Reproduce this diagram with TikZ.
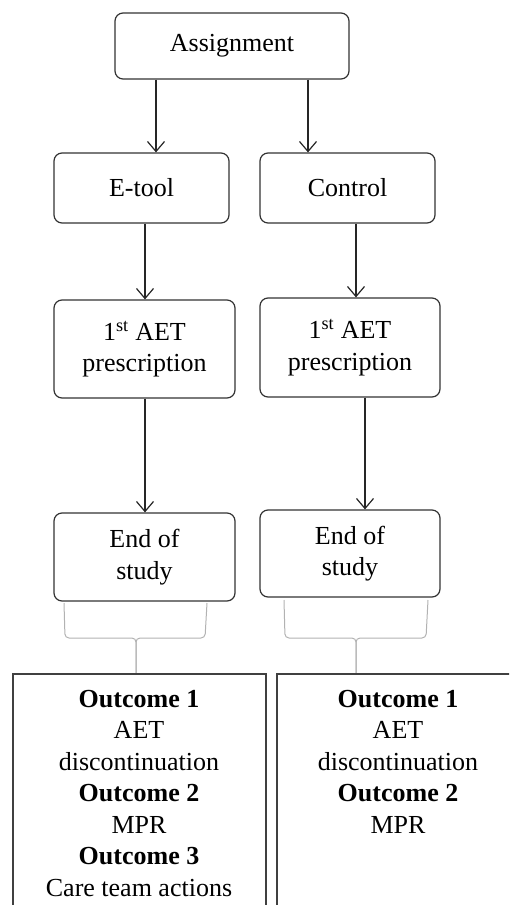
\documentclass[tikz,border=0pt]{standalone}
\usepackage{fontspec}
\setmainfont{Liberation Serif}
\usetikzlibrary{arrows.meta,calc}
\begin{document}
\begin{tikzpicture}[x=1pt,y=-1pt,
  box/.style={draw=black!80,line width=1.2pt,rounded corners=8pt,align=center,inner sep=0pt,
    font=\fontsize{26}{31.5}\selectfont},
  arr/.style={draw=black!85,line width=1.2pt,-{Straight Barb[length=10pt,width=17pt,line width=1.2pt]}},
  brace/.style={draw=black!30,line width=1pt,rounded corners=4pt},
  outline/.style={draw=black!75,line width=1.4pt},
  outtext/.style={align=center,inner sep=0pt,anchor=north,font=\fontsize{26}{31.5}\selectfont}]
\useasboundingbox (0,0) rectangle (509,905);
\clip (0,0) rectangle (509,905);
% boxes
\node[box,minimum width=234pt,minimum height=66pt] (assign) at (232,46) {Assignment};
\node[box,minimum width=175pt,minimum height=70pt] (etool) at (141.5,188) {E-tool};
\node[box,minimum width=175pt,minimum height=70pt] (control) at (347.5,188) {Control};
\node[box,minimum width=181pt,minimum height=98pt] (aet1) at (144.5,349) {1\textsuperscript{st} AET\\prescription};
\node[box,minimum width=180pt,minimum height=99pt] (aet2) at (350,347.5) {1\textsuperscript{st} AET\\prescription};
\node[box,minimum width=181pt,minimum height=88pt] (end1) at (144.5,557) {End of\\study};
\node[box,minimum width=180pt,minimum height=87pt] (end2) at (350,553.5) {End of\\study};
% arrows
\coordinate (p1) at ([xshift=-76pt]assign.south);
\coordinate (p2) at ([xshift=76pt]assign.south);
\draw[arr] (p1) -- (p1 |- etool.north);
\draw[arr] (p2) -- (p2 |- control.north);
\coordinate (p3) at ([xshift=3.5pt]etool.south);
\coordinate (p4) at ([xshift=8.5pt]control.south);
\draw[arr] (p3) -- (p3 |- aet1.north);
\draw[arr] (p4) -- (p4 |- aet2.north);
\coordinate (p5) at ([xshift=0.5pt]aet1.south);
\coordinate (p6) at ([xshift=15pt]aet2.south);
\draw[arr] (p5) -- (p5 |- end1.north);
\draw[arr] (p6) -- (p6 |- end2.north);
% braces
\draw[brace] (64,603) -- (65,638) -- (136,638) -- (136,674);
\draw[brace] (207,603) -- (205,638) -- (136,638) -- (136,674);
\draw[brace] (284,600) -- (285,638) -- (356,638) -- (356,674);
\draw[brace] (428,600) -- (426,638) -- (356,638) -- (356,674);
% outcome boxes
\draw[outline] (13,915) -- (13,674) -- (266,674) -- (266,915);
\draw[outline] (277,915) -- (277,674) -- (520,674);
\node[outtext] (out1) at (139,690) {\textbf{Outcome 1}\\AET\\discontinuation\\\textbf{Outcome 2}\\MPR\\\textbf{Outcome 3}\\Care team actions};
\node[outtext] (out2) at (398,690) {\textbf{Outcome 1}\\AET\\discontinuation\\\textbf{Outcome 2}\\MPR};
\end{tikzpicture}
\end{document}
